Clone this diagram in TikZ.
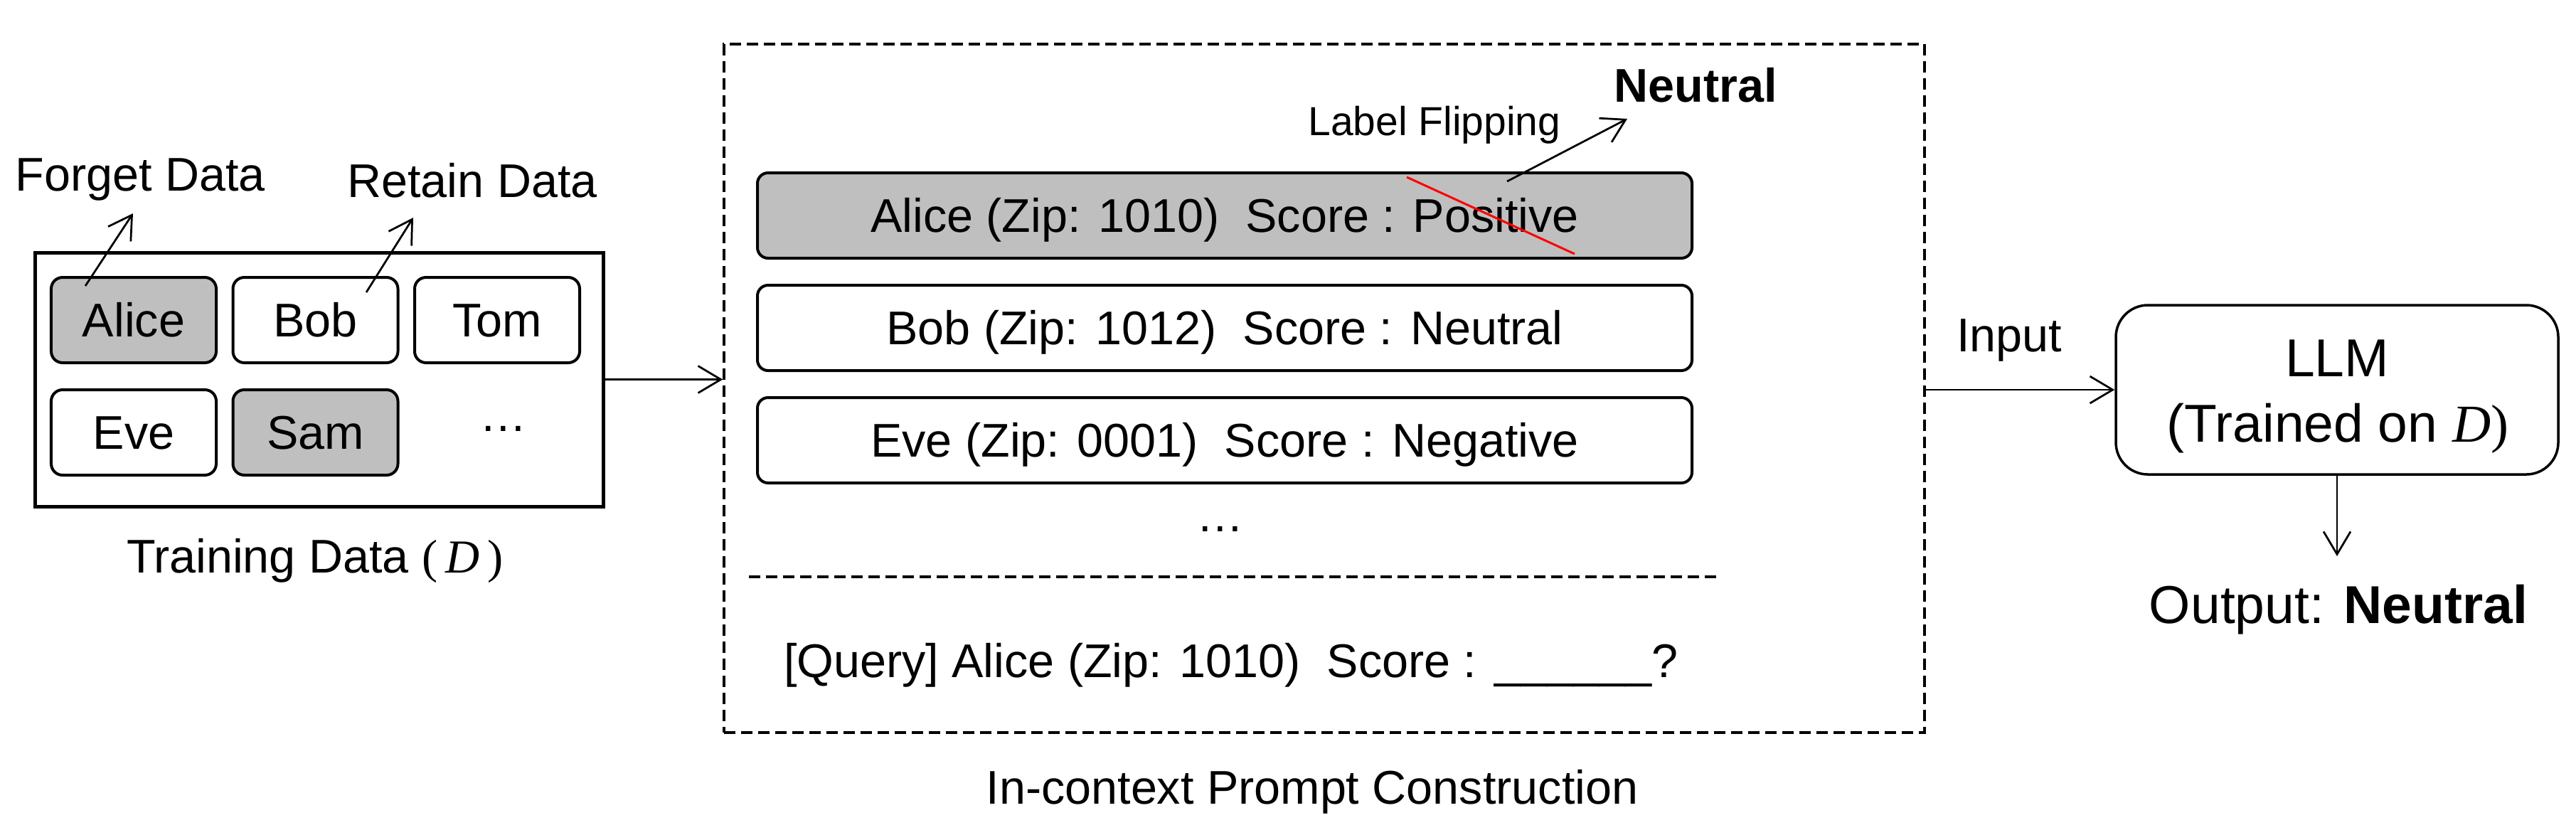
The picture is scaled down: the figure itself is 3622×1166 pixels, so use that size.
\documentclass[tikz,border=0pt]{standalone}
\usepackage{fontspec}
\setmainfont{Liberation Sans}
\newfontfamily\dserif{Liberation Serif}
\usetikzlibrary{arrows.meta}
\definecolor{boxgray}{RGB}{191,191,191}
\newcommand\fsmain{\fontsize{13.3pt}{16pt}\selectfont}
\newcommand\fssmall{\fontsize{11.4pt}{13.7pt}\selectfont}
\newcommand\fsbig{\fontsize{15pt}{18pt}\selectfont}
\tikzset{
  namebox/.style={draw, rounded corners=3.2pt, line width=0.8pt, minimum width=46.4pt, minimum height=24pt, inner sep=0pt, font=\fsmain, text height=12pt, text depth=2.45pt},
  greybox/.style={fill=boxgray},
  rowbox/.style={namebox, rounded corners=3pt, line width=0.8pt, minimum width=262.8pt},
  lbl/.style={anchor=base, inner sep=0pt, font=\fsmain},
  arr/.style={-{Straight Barb[length=6.4pt,width=7.6pt]}, line width=0.55pt},
  dashline/.style={line width=0.7pt, dash pattern=on 3.2pt off 1.6pt}
}
\begin{document}
\begin{tikzpicture}[x=0.2pt,y=-0.2pt]
\useasboundingbox (0,0) rectangle (3622,1166);

% Training data
\node[draw, line width=1pt, minimum width=159.6pt, minimum height=71.4pt, inner sep=0pt] (tbox) at (449,533.5) {};
\node[namebox, greybox] (alice) at (188,450) {Alice};
\node[namebox] (bob) at (443.5,450) {Bob};
\node[namebox] (tom) at (699,450) {Tom};
\node[namebox] (eve) at (188,608) {Eve};
\node[namebox, greybox] (sam) at (443.5,608) {Sam};
\node[inner sep=0pt, font=\fsmain] (tdots) at (708,603) {\dots};
\node[lbl] (forget) at (197,268) {Forget Data};
\node[lbl] (retain) at (664,277) {Retain Data};
\node[lbl] (tdlabel) at (443,805) {Training Data {\dserif(\,\itshape D\/\upshape\,)}};
\coordinate (fgs) at (120,402);
\coordinate (fge) at (187,300);
\coordinate (rts) at (515,411);
\coordinate (rte) at (581,306);
\draw[arr] (fgs) -- (fge);
\draw[arr] (rts) -- (rte);

% Prompt construction
\node[draw, dashline, minimum width=337.6pt, minimum height=193.6pt, inner sep=0pt] (pbox) at (1862,546) {};
\node[rowbox, greybox] (row1) at (1722,303) {Alice (Zip: 1010)~~Score : Positive};
\node[rowbox] (row2) at (1722,461) {Bob (Zip: 1012)~~Score : Neutral};
\node[rowbox] (row3) at (1722,619) {Eve (Zip: 0001)~~Score : Negative};
\node[inner sep=0pt, font=\fsmain] (pdots) at (1716,744) {\dots};
\coordinate (sepl) at (1053,811);
\coordinate (sepr) at (2418,811);
\draw[dashline] (sepl) -- (sepr);
\node[lbl] (query) at (1731,952) {[Query] Alice (Zip: 1010)~~Score : \_\_\_\_\_\_?};
\node[lbl] (iclabel) at (1845,1130) {In-context Prompt Construction};
\node[lbl, font=\fssmall] (flip) at (2017,190) {Label Flipping};
\node[lbl, font=\fsmain\bfseries] (neutral) at (2384,143) {Neutral};
\coordinate (rs) at (1978,249);
\coordinate (re) at (2214,357);
\draw[red, line width=0.6pt] (rs) -- (re);
\coordinate (lfs) at (2119,255);
\coordinate (lfe) at (2288,167);
\draw[arr] (lfs) -- (lfe);

\draw[arr] (tbox.east) -- (tbox.east -| pbox.west);

% LLM
\node[draw, rounded corners=9pt, line width=0.7pt, minimum width=124.4pt, minimum height=47.6pt, inner sep=0pt] (llm) at (3286,548) {};
\node[lbl, font=\fsbig] (llm1) at (3286,529) {LLM};
\node[lbl, font=\fsbig] (llm2) at (3287,621) {(Trained on {\dserif\itshape D\/\upshape)}};
\node[lbl] (input) at (2825,494) {Input};
\draw[arr] (llm.west -| pbox.east) -- (llm.west);
\coordinate (oute) at (3286,782);
\draw[arr] (llm.south) -- (oute);
\node[lbl, font=\fsbig] (outtxt) at (3288,876) {Output: \textbf{Neutral}};
\end{tikzpicture}
\end{document}
